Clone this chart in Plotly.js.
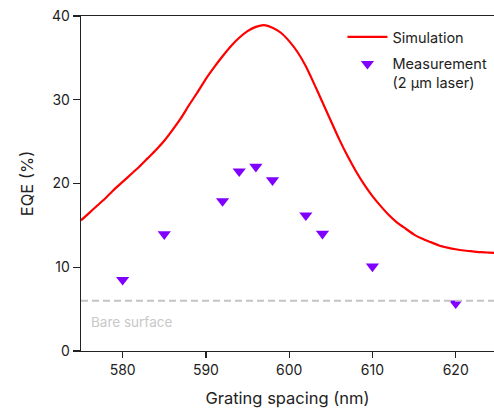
<!DOCTYPE html>
<html>
<head>
<meta charset="utf-8">
<script src="https://cdn.plot.ly/plotly-3.0.1.min.js"></script>
<style>html,body{margin:0;padding:0;background:#fff;}#chart{width:494px;height:408px;}</style>
</head>
<body>
<div id="chart"></div>
<script>
// Simulation curve (nm, EQE %)
const simSpacing = [575,576,577,578,579,580,581,582,583,584,585,586,587,588,589,590,591,592,593,594,595,596,597,598,599,600,601,602,603,604,605,606,607,608,609,610,611,612,613,614,615,616,617,618,619,620,621,622,623,624,625];
const simEQE = [15.6,16.5,17.4,18.3,19.3,20.2,21.1,22.0,23.0,24.0,25.1,26.4,27.8,29.4,30.9,32.5,33.9,35.2,36.4,37.4,38.2,38.7,38.9,38.6,38.0,37.0,35.7,34.0,31.9,29.7,27.5,25.3,23.3,21.5,19.9,18.5,17.3,16.2,15.3,14.6,13.9,13.4,13.0,12.6,12.35,12.15,12.0,11.9,11.8,11.75,11.7];

// Measurements (2 µm laser)
const measSpacing = [580,585,592,594,596,598,602,604,610,620];
const measEQE = [8.5,13.95,17.9,21.45,22.0,20.4,16.2,14.0,10.1,5.7];

// Bare surface reference level
const bareSpacing = [575,625];
const bareEQE = [6,6];

const xTicks = [580,590,600,610,620];
const yTicks = [0,10,20,30,40];

const FONT = 'Inter, "Liberation Sans", Arial, sans-serif';

const traces = [
  {x: simSpacing, y: simEQE, type: 'scatter', mode: 'lines', name: 'Simulation', legendgroup: 'sim',
   line: {color: '#ff0000', width: 2.2, shape: 'spline', smoothing: 0.5}},
  {x: measSpacing, y: measEQE, type: 'scatter', mode: 'markers', name: 'Measurement<br>(2 µm laser)', legendgroup: 'meas',
   marker: {symbol: 'triangle-down', size: 11.5, color: '#8000ff'}},
  {x: bareSpacing, y: bareEQE, type: 'scatter', mode: 'lines', showlegend: false, hoverinfo: 'skip', legendgroup: 'bare',
   line: {color: '#c4c4c4', width: 2, dash: '7px,4px'}}
];

const layout = {
  width: 494, height: 408,
  margin: {l: 81, r: 0, t: 16, b: 57},
  paper_bgcolor: '#fff', plot_bgcolor: '#fff',
  font: {family: FONT, size: 14, color: '#222'},
  showlegend: true,
  legend: {x: 0.633, y: 0.985, xanchor: 'left', yanchor: 'top', bgcolor: 'rgba(0,0,0,0)',
           font: {family: FONT, size: 14.5, color: '#222'}, valign: 'top', itemwidth: 40,
           traceorder: 'grouped', tracegroupgap: 5},
  xaxis: {range: [575, 624.6], tickvals: xTicks, ticktext: xTicks.map(String),
          showgrid: false, zeroline: false, showline: true, linecolor: '#222', linewidth: 1.3,
          mirror: true, ticks: 'outside', ticklen: 6, tickwidth: 1.3, tickcolor: '#222',
          tickfont: {family: FONT, size: 14, color: '#222'},
          title: {text: 'Grating spacing (nm)', font: {family: FONT, size: 16.5, color: '#222'}, standoff: 15}},
  yaxis: {range: [0, 40], tickvals: yTicks, ticktext: yTicks.map(String),
          showgrid: false, zeroline: false, showline: true, linecolor: '#222', linewidth: 1.3,
          ticks: 'outside', ticklen: 7, tickwidth: 1.3, tickcolor: '#222',
          tickfont: {family: FONT, size: 14, color: '#222'},
          title: {text: 'EQE (%)', font: {family: FONT, size: 16.5, color: '#222'}, standoff: 14}},
  annotations: [
    {x: 576.0, y: 3.46, xref: 'x', yref: 'y', xanchor: 'left', yanchor: 'middle', showarrow: false,
     text: 'Bare surface', font: {family: FONT, size: 13.5, color: '#c8c8c8'}}
  ]
};

Plotly.newPlot('chart', traces, layout, {displayModeBar: false, staticPlot: true});
</script>
</body>
</html>
